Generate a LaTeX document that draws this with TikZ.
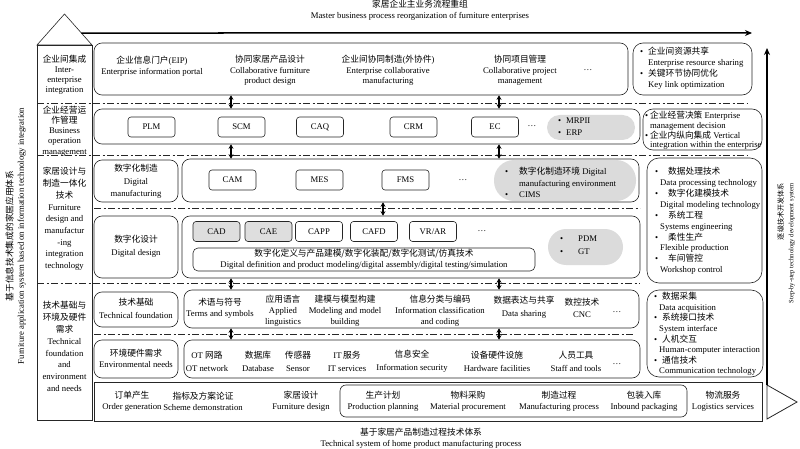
\documentclass[tikz,border=0pt]{standalone}
\usepackage{fontspec}
\setmainfont{Liberation Serif}
\newfontfamily\zhfont{Noto Sans CJK SC}
\usepackage{tikz}
\usetikzlibrary{positioning,fit,calc,arrows.meta}
\newcommand{\zh}[1]{{\zhfont #1}}
\newcommand{\fs}[1]{\fontsize{8.7}{#1}\selectfont}
\newcommand{\bl}[1][8pt]{\makebox[#1][l]{\textbullet}}
\newcommand{\nb}[1][8pt]{\hspace*{#1}}
\tikzset{
  lay/.style    = {draw=black!85, line width=0.6pt, inner sep=0pt},
  rowbox/.style = {lay, rounded corners=8pt},
  sidebox/.style = {lay, rounded corners=10pt},
  tag/.style    = {draw=black!85, line width=0.6pt, rounded corners=3pt,
                   minimum width=47pt, minimum height=20pt, inner sep=1pt,
                   font=\fs{10}},
  gtag/.style   = {tag, fill=black!13},
  pill/.style   = {fill=black!14, rounded corners=#1, inner sep=0pt},
  pill/.default = 12pt,
  txt/.style    = {align=center, inner sep=0pt, font=\fs{11}},
  ltxt/.style   = {align=left, inner sep=0pt, font=\fs{11}},
  sep/.style    = {black!85, line width=0.6pt,
                   dash pattern=on 7pt off 2.5pt on 2pt off 2.5pt},
  link/.style   = {{Stealth[length=4.5pt,width=5pt]}-{Stealth[length=4.5pt,width=5pt]},
                   line width=1.5pt},
  flow/.style   = {-{Stealth[length=7pt,width=6pt]}, line width=1.5pt}
}

\begin{document}
\begin{tikzpicture}[x=1pt,y=-1pt]
\useasboundingbox (0,0) rectangle (800,449);

% titles
\node[txt] (top) at (420,10.5) {\zh{家居企业主业务流程重组}\\Master business process reorganization of furniture enterprises};
\node[txt] (bot) at (421,438) {\zh{基于家居产品制造过程技术体系}\\Technical system of home product manufacturing process};
\node[txt, rotate=90] (lside) at (15.5,236) {\zh{基于信息技术集成的家居应用体系}\\Furniture application system based on information technology integration};
\node[rotate=90, anchor=east, align=right, inner sep=0pt, font=\fontsize{6.6}{10}\selectfont] (rside) at (786,183) {{\fontsize{7.1}{10}\selectfont\zh{逐级技术开发体系}}\\Step-by-step technology development system};

% left column
\node[lay, fit={(37,45) (92,420)}] (lc) {};
\draw[lay, fill=white] (37,45) -- (64.5,14) -- (92,45) -- cycle;
\node[txt, font=\fs{10}] (l1) at (64.5,75) {\zh{企业间集成}\\Inter-\\enterprise\\integration};
\node[txt, font=\fs{10.2}] (l2) at (64.5,131) {\zh{企业经营运}\\\zh{作管理}\\Business\\operation\\management};
\node[txt, font=\fs{11.7}] (l3) at (64.5,219) {\zh{家居设计与}\\\zh{制造一体化}\\\zh{技术}\\Furniture\\design and\\manufactur\\-ing\\integration\\technology};
\node[txt, font=\fs{11.9}] (l4) at (64.5,346.5) {\zh{技术基础与}\\\zh{环境及硬件}\\\zh{需求}\\Technical\\foundation\\and\\environment\\and needs};

% main rows
\node[rowbox, fit={(94,43) (628,95)}] (r1) {};
\node[txt] (eip) at (152,66) {\zh{企业信息门户}(EIP)\\Enterprise information portal};
\node[txt, font=\fs{10.5}] (cfd) at (270,70.5) {\zh{协同家居产品设计}\\Collaborative furniture\\product design};
\node[txt, font=\fs{10.5}] (ecm) at (388,70.5) {\zh{企业间协同制造}(\zh{外协件})\\Enterprise collaborative\\manufacturing};
\node[txt, font=\fs{10.5}] (cpm) at (520,70.5) {\zh{协同项目管理}\\Collaborative project\\management};
\node[txt] (d1) at (588,70) {\dots};

\node[rowbox, fit={(94,109) (640,144)}] (r2) {};
\node[tag] (plm) at (151.5,127) {PLM};
\node[tag] (scm) at (241.5,127) {SCM};
\node[tag] (caq) at (320,127) {CAQ};
\node[tag] (crm) at (413.5,127) {CRM};
\node[tag] (ec) at (495,127) {EC};
\node[txt] (d2) at (532,126) {\dots};
\node[pill=12.5pt, fit={(547,115) (635,140)}] (p2) {};
\node[ltxt, font=\fs{12}, anchor=west] (p2t) at (558,127) {\bl MRPII\\\bl ERP};

\node[rowbox, fit={(94,160) (178,202)}] (dm) {};
\node[txt, font=\fs{12.5}] (dmt) at (136,181.5) {\zh{数字化制造}\\Digital\\manufacturing};
\node[rowbox, fit={(182,159) (639,202)}] (r3) {};
\node[tag] (cam) at (232.5,180) {CAM};
\node[tag] (mes) at (319.5,180) {MES};
\node[tag] (fms) at (405.5,180) {FMS};
\node[txt] (d3) at (463,180) {\dots};
\node[pill=20pt, fit={(494,160) (636,201)}] (p3) {};
\node[ltxt, font=\fs{11.5}, anchor=west] (p3t) at (505,182.5) {\bl[14pt]\zh{数字化制造环境} Digital\\\nb[14pt]manufacturing environment\\\bl[14pt]CIMS};

\node[rowbox, fit={(94,216) (178,278)}] (dd) {};
\node[txt, font=\fs{13}] (ddt) at (136,246.5) {\zh{数字化设计}\\Digital design};
\node[rowbox, fit={(182,216) (640,278)}] (r4) {};
\node[gtag] (cad) at (216.5,231.5) {CAD};
\node[gtag] (cae) at (268.5,231.5) {CAE};
\node[tag] (capp) at (319,231.5) {CAPP};
\node[tag] (cafd) at (374,231.5) {CAFD};
\node[tag] (vrar) at (433,231.5) {VR/AR};
\node[txt] (d4) at (482,231) {\dots};
\node[lay, rounded corners=5pt, fit={(193,248) (535,271)}] (ddm) {};
\node[txt] (ddmt) at (364,259) {\zh{数字化定义与产品建模/数字化装配/数字化测试/仿真技术}\\Digital definition and product modeling/digital assembly/digital testing/simulation};
\node[pill=18pt, fit={(548,229) (623,265)}] (p4) {};
\node[ltxt, font=\fs{13}, anchor=west] (p4t) at (560,245.5) {\bl[18pt]PDM\\\bl[18pt]GT};

\node[rowbox, fit={(94,292) (178,327)}] (tf) {};
\node[txt, font=\fs{13}] (tft) at (136,308.5) {\zh{技术基础}\\Technical foundation};
\node[rowbox, fit={(184,290) (639,328)}] (r5) {};
\node[txt, font=\fs{10.5}] (ts) at (220,308.5) {\zh{术语与符号}\\Terms and symbols};
\node[txt] (al) at (283,310.5) {\zh{应用语言}\\Applied\\linguistics};
\node[txt] (mb) at (345,310.5) {\zh{建模与模型构建}\\Modeling and model\\building};
\node[txt] (ic) at (440,310.5) {\zh{信息分类与编码}\\Information classification\\and coding};
\node[txt, font=\fs{12.5}] (ds) at (524,307.5) {\zh{数据表达与共享}\\Data sharing};
\node[txt, font=\fs{12}] (cnc) at (582,308) {\zh{数控技术}\\CNC};
\node[txt] (d5) at (617,312) {\dots};

\node[rowbox, fit={(94,340) (178,378)}] (en) {};
\node[txt, font=\fs{11.6}] (ent) at (136,358.5) {\zh{环境硬件需求}\\Environmental needs};
\node[rowbox, fit={(184,340) (640,378)}] (r6) {};
\node[txt, font=\fs{13}] (ot) at (207,361.5) {OT \zh{网路}\\OT network};
\node[txt, font=\fs{13}] (db) at (258,361.5) {\zh{数据库}\\Database};
\node[txt, font=\fs{13}] (sn) at (298,361.5) {\zh{传感器}\\Sensor};
\node[txt, font=\fs{13}] (its) at (347,361.5) {IT\,\zh{服务}\\IT services};
\node[txt, font=\fs{13}] (is) at (412,361.5) {\zh{信息安全}\\Information security};
\node[txt, font=\fs{13}] (hf) at (497,361.5) {\zh{设备硬件设施}\\Hardware facilities};
\node[txt, font=\fs{13}] (st) at (576,361.5) {\zh{人员工具}\\Staff and tools};
\node[txt] (d6) at (617,364) {\dots};

% bottom process row
\node[lay, fit={(94,382) (762,421)}] (bt) {};
\node[lay, rounded corners=6pt, fit={(340,385) (687,417)}] (bin) {};
\node[txt] (og) at (132,401.5) {\zh{订单产生}\\Order generation};
\node[txt] (sd) at (203,401.5) {\zh{指标及方案论证}\\Scheme demonstration};
\node[txt] (fd) at (301,401.5) {\zh{家居设计}\\Furniture design};
\node[txt] (pp) at (383,401.5) {\zh{生产计划}\\Production planning};
\node[txt] (mp) at (468,401.5) {\zh{物料采购}\\Material procurement};
\node[txt] (mf) at (559,401.5) {\zh{制造过程}\\Manufacturing process};
\node[txt] (ip) at (644,401.5) {\zh{包装入库}\\Inbound packaging};
\node[txt] (ls) at (723,401.5) {\zh{物流服务}\\Logistics services};

% right column
\node[sidebox, fit={(633,43) (752,95)}] (s1) {};
\node[ltxt, anchor=west] (s1t) at (640,68.5) {\bl\zh{企业间资源共享}\\\nb Enterprise resource sharing\\\bl\zh{关键环节协同优化}\\\nb Key link optimization};
\node[sidebox, fit={(643,109) (762,150)}] (s2) {};
\node[ltxt, font=\fs{9.7}, anchor=west] (s2t) at (645,130.5) {\bl[5pt]\zh{企业经营决策} Enterprise\\\nb[5pt]management decision\\\bl[5pt]\zh{企业内纵向集成} Vertical\\\nb[5pt]integration within the enterprise};
\node[sidebox, rounded corners=12pt, fit={(647,158) (762,283)}] (s3) {};
\node[ltxt, font=\fs{10.9}, anchor=west] (s3t) at (655,221) {\bl[13pt]\zh{数据处理技术}\\\nb[5pt]Data processing technology\\\bl[13pt]\zh{数字化建模技术}\\\nb[5pt]Digital modeling technology\\\bl[13pt]\zh{系统工程}\\\nb[5pt]Systems engineering\\\bl[13pt]\zh{柔性生产}\\\nb[5pt]Flexible production\\\bl[13pt]\zh{车间管控}\\\nb[5pt]Workshop control};
\node[sidebox, rounded corners=12pt, fit={(647,290) (763,377)}] (s4) {};
\node[ltxt, font=\fs{10.6}, anchor=west] (s4t) at (654,334) {\bl\zh{数据采集}\\\nb[5pt]Data acquisition\\\bl\zh{系统接口技术}\\\nb[5pt]System interface\\\bl\zh{人机交互}\\\nb[5pt]Human-computer interaction\\\bl\zh{通信技术}\\\nb[5pt]Communication technology};

% separators
\draw[sep] (37,103) -- (747,103);
\draw[sep] (37,155) -- (747,155);
\draw[sep] (94,208) -- (640,208);
\draw[sep] (37,283) -- (640,283);
\draw[sep] (94,334) -- (635,334);

% links between layers
\coordinate (ca) at (231,0);
\coordinate (cb) at (499,0);
\coordinate (cc) at (383,0);
\draw[link] (r1.south -| ca) -- (r2.north -| ca);
\draw[link] (r1.south -| cb) -- (r2.north -| cb);
\draw[link] (r2.south -| ca) -- (r3.north -| ca);
\draw[link] (r2.south -| cb) -- (r3.north -| cb);
\draw[link] (r3.south -| cc) -- (r4.north -| cc);
\draw[link] (r4.south -| ca) -- (r5.north -| ca);
\draw[link] (r4.south -| cb) -- (r5.north -| cb);
\draw[link] (r5.south -| ca) -- (r6.north -| ca);
\draw[link] (r5.south -| cb) -- (r6.north -| cb);

% outer flows
\coordinate (tip) at ($(64.5,14)!0.613!(92,45)$);
\coordinate (fe) at (752,33);
\draw[flow] (tip) -- (fe);
\draw[lay, line width=0.8pt, fill=white] (767,385) -- (797,402) -- (767,419) -- cycle;
\coordinate (rb) at (767,385);
\coordinate (re) at (767,48);
\draw[flow, line width=2pt] (rb) -- (re);
\end{tikzpicture}
\end{document}
